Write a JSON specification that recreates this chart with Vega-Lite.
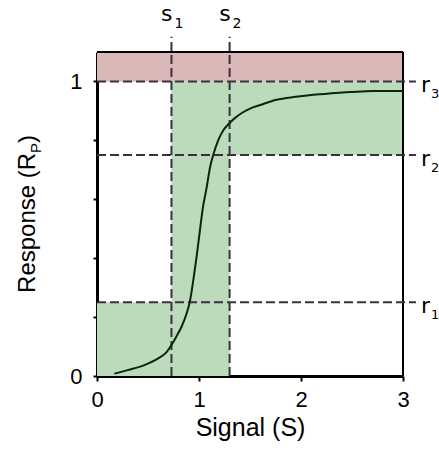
{
  "$schema": "https://vega.github.io/schema/vega-lite/v6.json",
  "width": 306,
  "height": 324,
  "autosize": {"type": "none"},
  "padding": {"left": 97, "top": 52, "right": 36, "bottom": 74},
  "background": "white",
  "config": {
    "view": {"stroke": null},
    "axis": {"labelFont": "Liberation Sans", "titleFont": "Liberation Sans", "labelColor": "black", "titleColor": "black", "domainColor": "black", "tickColor": "black", "grid": false, "zindex": 1}
  },
  "datasets": {
    "regions": [
      {"x1": 0, "x2": 3, "y1": 1, "y2": 1.1, "zone": "out"},
      {"x1": 0.73, "x2": 3, "y1": 0.75, "y2": 1, "zone": "in"},
      {"x1": 0.73, "x2": 1.3, "y1": 0, "y2": 1, "zone": "in"},
      {"x1": 0, "x2": 1.3, "y1": 0, "y2": 0.25, "zone": "in"}
    ],
    "curve": [
      {"S": 0.17, "R": 0.008}, {"S": 0.3, "R": 0.02}, {"S": 0.47, "R": 0.038}, {"S": 0.6, "R": 0.06},
      {"S": 0.68, "R": 0.08}, {"S": 0.73, "R": 0.105}, {"S": 0.78, "R": 0.135}, {"S": 0.83, "R": 0.168},
      {"S": 0.88, "R": 0.214}, {"S": 0.91, "R": 0.252}, {"S": 0.945, "R": 0.327}, {"S": 0.977, "R": 0.406},
      {"S": 1.01, "R": 0.497}, {"S": 1.04, "R": 0.576}, {"S": 1.07, "R": 0.63}, {"S": 1.11, "R": 0.711},
      {"S": 1.14, "R": 0.751}, {"S": 1.19, "R": 0.802}, {"S": 1.24, "R": 0.835}, {"S": 1.3, "R": 0.859},
      {"S": 1.36, "R": 0.878}, {"S": 1.42, "R": 0.893}, {"S": 1.5, "R": 0.908}, {"S": 1.6, "R": 0.92},
      {"S": 1.76, "R": 0.938}, {"S": 1.95, "R": 0.948}, {"S": 2.12, "R": 0.955}, {"S": 2.3, "R": 0.96},
      {"S": 2.48, "R": 0.964}, {"S": 2.71, "R": 0.968}, {"S": 3.0, "R": 0.968}
    ],
    "sThresh": [
      {"name": "s", "sub": "1", "value": 0.73},
      {"name": "s", "sub": "2", "value": 1.3}
    ],
    "rThresh": [
      {"name": "r", "sub": "1", "value": 0.25},
      {"name": "r", "sub": "2", "value": 0.75},
      {"name": "r", "sub": "3", "value": 1}
    ],
    "one": [{"k": 1}]
  },
  "layer": [
    {
      "data": {"name": "regions"},
      "mark": {"type": "rect"},
      "encoding": {
        "x": {"field": "x1", "type": "quantitative", "scale": {"domain": [0, 3], "nice": false, "zero": false},
          "axis": {"values": [0, 1, 2, 3], "format": "d", "title": "Signal (S)", "titleFontSize": 25, "titleFontWeight": "normal", "labelFontSize": 22, "tickSize": 5, "tickWidth": 2, "domainWidth": 3, "labelPadding": 8, "titlePadding": 5, "labelFlush": false}},
        "x2": {"field": "x2"},
        "y": {"field": "y1", "type": "quantitative", "scale": {"domain": [0, 1.1], "nice": false, "zero": false},
          "axis": {"values": [0, 0.1, 0.2, 0.3, 0.4, 0.5, 0.6, 0.7, 0.8, 0.9, 1], "labelExpr": "datum.value == 0 ? '0' : datum.value == 0.5 ? '0.5' : datum.value == 1 ? '1' : ''", "title": null, "labelFontSize": 22, "tickSize": 4, "tickWidth": 2, "domainWidth": 3, "labelPadding": 11, "labelFlush": false}},
        "y2": {"field": "y2"},
        "color": {"field": "zone", "type": "nominal", "scale": {"domain": ["in", "out"], "range": ["#bbdbbb", "#dbb8b8"]}, "legend": null}
      }
    },
    {
      "data": {"name": "one"},
      "mark": {"type": "rule", "color": "black", "strokeWidth": 2},
      "encoding": {"x": {"datum": 0}, "x2": {"datum": 3}, "y": {"datum": 1.1}}
    },
    {
      "data": {"name": "one"},
      "mark": {"type": "rule", "color": "black", "strokeWidth": 2},
      "encoding": {"x": {"datum": 3}, "y": {"datum": 0}, "y2": {"datum": 1.1}}
    },
    {
      "data": {"name": "sThresh"},
      "mark": {"type": "rule", "color": "#3a3042", "strokeWidth": 2, "strokeDash": [9, 4]},
      "encoding": {"x": {"field": "value", "type": "quantitative"}, "y": {"datum": 0}, "y2": {"datum": 1.152}}
    },
    {
      "data": {"name": "rThresh"},
      "mark": {"type": "rule", "color": "#3a3042", "strokeWidth": 2, "strokeDash": [9, 4]},
      "encoding": {"y": {"field": "value", "type": "quantitative"}, "x": {"datum": 0}, "x2": {"datum": 3.127}}
    },
    {
      "data": {"name": "curve"},
      "mark": {"type": "line", "color": "#0c260c", "strokeWidth": 2, "interpolate": "monotone"},
      "encoding": {"x": {"field": "S", "type": "quantitative"}, "y": {"field": "R", "type": "quantitative"}}
    },
    {
      "data": {"name": "sThresh"},
      "mark": {"type": "text", "font": "DejaVu Sans", "fontSize": 22, "align": "right", "baseline": "alphabetic", "dx": 1, "color": "black"},
      "encoding": {"x": {"field": "value", "type": "quantitative"}, "y": {"datum": 1.205}, "text": {"field": "name"}}
    },
    {
      "data": {"name": "sThresh"},
      "mark": {"type": "text", "font": "DejaVu Sans", "fontSize": 14, "align": "left", "baseline": "alphabetic", "dx": 3, "color": "black"},
      "encoding": {"x": {"field": "value", "type": "quantitative"}, "y": {"datum": 1.18}, "text": {"field": "sub"}}
    },
    {
      "data": {"name": "rThresh"},
      "mark": {"type": "text", "font": "DejaVu Sans", "fontSize": 22, "align": "left", "baseline": "alphabetic", "dx": 18, "dy": 11, "color": "black"},
      "encoding": {"y": {"field": "value", "type": "quantitative"}, "x": {"datum": 3}, "text": {"field": "name"}}
    },
    {
      "data": {"name": "rThresh"},
      "mark": {"type": "text", "font": "DejaVu Sans", "fontSize": 13, "align": "left", "baseline": "alphabetic", "dx": 28, "dy": 17, "color": "black"},
      "encoding": {"y": {"field": "value", "type": "quantitative"}, "x": {"datum": 3}, "text": {"field": "sub"}}
    },
    {
      "data": {"name": "one"},
      "mark": {"type": "text", "font": "Liberation Sans", "fontSize": 24, "align": "left", "baseline": "alphabetic", "angle": 270, "color": "black", "text": "Response (R"},
      "encoding": {"x": {"datum": -0.608}, "y": {"datum": 0.282}}
    },
    {
      "data": {"name": "one"},
      "mark": {"type": "text", "font": "Liberation Sans", "fontSize": 15, "align": "left", "baseline": "alphabetic", "angle": 270, "color": "black", "text": "P"},
      "encoding": {"x": {"datum": -0.55}, "y": {"datum": 0.757}}
    },
    {
      "data": {"name": "one"},
      "mark": {"type": "text", "font": "Liberation Sans", "fontSize": 24, "align": "left", "baseline": "alphabetic", "angle": 270, "color": "black", "text": ")"},
      "encoding": {"x": {"datum": -0.608}, "y": {"datum": 0.791}}
    }
  ]
}
